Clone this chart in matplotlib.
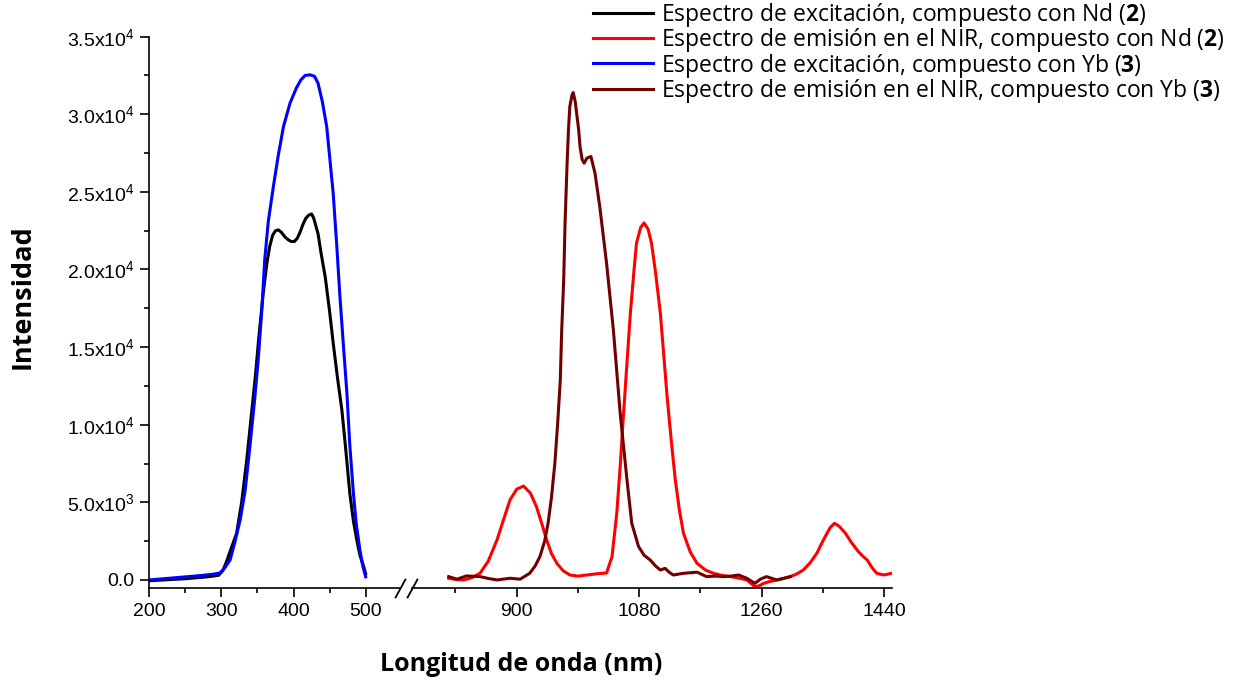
import numpy as np
import matplotlib.pyplot as plt
from matplotlib.ticker import FixedLocator, FuncFormatter, MultipleLocator

plt.rcParams['font.family'] = ['Liberation Sans', 'DejaVu Sans']
plt.rcParams['mathtext.fontset'] = 'custom'
plt.rcParams['mathtext.rm'] = 'Liberation Sans'
plt.rcParams['mathtext.it'] = 'Liberation Sans:italic'
plt.rcParams['mathtext.bf'] = 'Open Sans:bold'

# Espectros de excitación (nm, intensidad)
exc_nd_x = [200, 250, 280, 290, 296, 302, 308, 314, 321, 328, 335, 341, 347, 352, 358, 363, 367,
            371, 375, 379, 383, 388, 393, 397, 401, 405, 409, 413, 417, 421, 425, 428, 431, 434,
            438, 444, 450, 455, 461, 467, 472, 478, 483, 488, 492, 497, 500]
exc_nd_y = [-50, 80, 200, 260, 300, 600, 1300, 2100, 3000, 5000, 7700, 10400, 13100, 15700, 18500,
            20400, 21500, 22200, 22500, 22550, 22400, 22100, 21900, 21800, 21800, 22000, 22400,
            22900, 23300, 23500, 23580, 23300, 22800, 22300, 21100, 19500, 17300, 15250, 13000,
            10950, 8600, 5590, 3800, 2500, 1600, 900, 400]

exc_yb_x = [200, 215, 230, 245, 260, 275, 290, 298, 305, 312, 319, 326, 333, 340, 346, 351, 356,
            360, 365, 372, 379, 386, 395, 404, 410, 416, 423, 429, 434, 440, 446, 450, 455, 460,
            464, 469, 474, 478, 483, 487, 492, 496, 500]
exc_yb_y = [0, 60, 120, 180, 240, 300, 380, 450, 800, 1290, 2500, 3870, 5800, 8830, 11600, 14170,
            17400, 20620, 23100, 25340, 27400, 29200, 30700, 31700, 32200, 32500, 32540, 32450,
            32000, 30800, 29200, 27300, 24900, 21500, 18480, 15200, 12030, 8700, 5590, 3600, 1930,
            900, 200]

# Espectros de emisión en el NIR
em_nd_x = [800, 812, 822, 834, 846, 858, 871, 880, 890, 900, 910, 920, 929, 937, 944, 951, 959,
           968, 978, 990, 1003, 1018, 1032, 1040, 1047, 1052, 1057, 1062, 1067, 1072, 1076, 1082,
           1087, 1093, 1098, 1104, 1111, 1116, 1121, 1127, 1133, 1139, 1145, 1155, 1165, 1177,
           1189, 1201, 1214, 1226, 1238, 1250, 1256, 1263, 1272, 1282, 1292, 1302, 1312, 1321,
           1331, 1341, 1348, 1356, 1361, 1367, 1374, 1383, 1392, 1402, 1408, 1415, 1422, 1429,
           1439, 1451]
em_nd_y = [110, 20, 0, 150, 430, 1200, 2580, 3800, 5150, 5850, 6050, 5600, 4720, 3600, 2580, 1700,
           1070, 600, 320, 250, 320, 400, 450, 1500, 4300, 7300, 10740, 14000, 17200, 19800, 21700,
           22700, 23000, 22600, 21700, 19800, 17200, 14500, 11800, 9000, 6440, 4500, 3010, 1800,
           1070, 650, 430, 300, 215, 120, 0, -430, -380, -215, -100, 0, 100, 215, 400, 640, 1100,
           1720, 2350, 3010, 3400, 3650, 3450, 3010, 2400, 1830, 1550, 1290, 800, 430, 320, 430]

em_yb_x = [800, 812, 826, 846, 858, 871, 890, 905, 919, 927, 934, 941, 946, 951, 956, 960, 964,
           966, 969, 971, 974, 976, 978, 981, 983, 986, 988, 991, 993, 996, 999, 1003, 1009, 1015,
           1022, 1032, 1042, 1052, 1062, 1069, 1079, 1087, 1096, 1104, 1111, 1118, 1124, 1130,
           1145, 1165, 1179, 1192, 1204, 1215, 1226, 1238, 1250, 1258, 1267, 1275, 1282, 1292, 1302]
em_yb_y = [215, 50, 260, 215, 100, 0, 110, 50, 430, 900, 1500, 2500, 3650, 5300, 7520, 10000,
           12890, 16000, 19330, 23000, 26850, 29000, 30500, 31200, 31400, 30800, 30070, 29000,
           27920, 27100, 26850, 27170, 27280, 26200, 24050, 20400, 16100, 10740, 6440, 3650, 2150,
           1600, 1290, 900, 640, 750, 500, 320, 430, 500, 215, 250, 215, 250, 320, 110, -215, 50,
           215, 100, 0, 100, 215]

etiquetas = ['Espectro de excitación, compuesto con Nd ($\\mathbf{2}$)',
             'Espectro de emisión en el NIR, compuesto con Nd ($\\mathbf{2}$)',
             'Espectro de excitación, compuesto con Yb ($\\mathbf{3}$)',
             'Espectro de emisión en el NIR, compuesto con Yb ($\\mathbf{3}$)']
colores = ['#000000', '#ff0000', '#0000ff', '#700000']

fig = plt.figure(figsize=(12.33, 6.8), dpi=100)
ax1 = fig.add_axes([0.1211, 0.1349, 0.2033, 0.8112])
ax2 = fig.add_axes([0.3341, 0.1349, 0.3891, 0.8112], sharey=ax1)

lw = 2.2
l1, = ax1.plot(exc_nd_x, exc_nd_y, color=colores[0], lw=lw)
l3, = ax1.plot(exc_yb_x, exc_yb_y, color=colores[2], lw=lw)
l2, = ax2.plot(em_nd_x, em_nd_y, color=colores[1], lw=lw)
l4, = ax2.plot(em_yb_x, em_yb_y, color=colores[3], lw=lw)

ax1.set_xlim(200, 547.6)
ax2.set_xlim(746, 1451)
ax1.set_ylim(-535, 35000)


def fmt_sci(v, pos):
    if v == 0:
        return '0.0'
    e = int(np.floor(np.log10(abs(v))))
    return f'{v / 10**e:.1f}x10$^{{{e}}}$'


ax1.yaxis.set_major_locator(MultipleLocator(5000))
ax1.yaxis.set_minor_locator(MultipleLocator(2500))
ax1.yaxis.set_major_formatter(FuncFormatter(fmt_sci))
ax1.xaxis.set_major_locator(FixedLocator([200, 300, 400, 500]))
ax1.xaxis.set_minor_locator(FixedLocator([250, 350, 450]))
ax2.xaxis.set_major_locator(FixedLocator([900, 1080, 1260, 1440]))
ax2.xaxis.set_minor_locator(FixedLocator([810, 990, 1170, 1350]))

for ax in (ax1, ax2):
    ax.spines['top'].set_visible(False)
    ax.spines['right'].set_visible(False)
    for s in ax.spines.values():
        s.set_linewidth(1.2)
    ax.tick_params(which='major', direction='out', length=6.5, width=1.2, labelsize=14, pad=4)
    ax.tick_params(which='minor', direction='out', length=3.8, width=1.2)
ax2.spines['left'].set_visible(False)
ax2.tick_params(axis='y', which='both', left=False, labelleft=False)

# marcas de corte del eje x
corte = dict(marker=[(-0.55, -1), (0.55, 1)], markersize=14, linestyle='none',
             color='k', mec='k', mew=1.3, clip_on=False)
ax1.plot([1], [0], transform=ax1.transAxes, **corte)
ax2.plot([0], [0], transform=ax2.transAxes, **corte)

fig.text(22.5 / 1233, 1 - 296.5 / 680, 'Intensidad', rotation=90, ha='center', va='center',
         family='Open Sans', fontweight='bold', fontsize=19.5)
fig.text(521.5 / 1233, 1 - 671 / 680, 'Longitud de onda (nm)', ha='center', va='baseline',
         family='Open Sans', fontweight='bold', fontsize=18)

fig.legend([l1, l2, l3, l4], etiquetas, loc='upper left', bbox_to_anchor=(593 / 1233, 1 - 1 / 680),
           frameon=False, borderpad=0, borderaxespad=0, handlelength=2.6, handletextpad=0.38,
           labelspacing=-0.12, prop={'family': 'Open Sans', 'size': 16.5})

fig.savefig('out.png', dpi=100)
